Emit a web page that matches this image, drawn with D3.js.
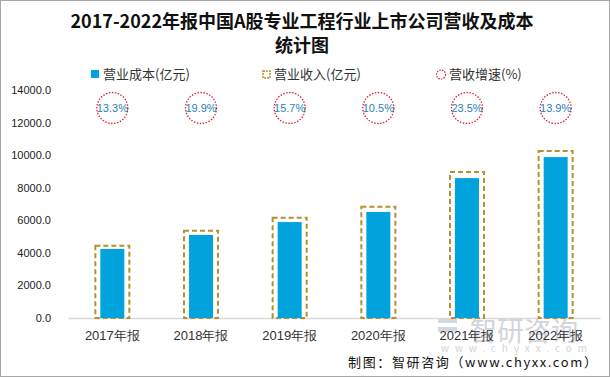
<!DOCTYPE html>
<html>
<head>
<meta charset="utf-8">
<script src="https://cdn.jsdelivr.net/npm/d3@7"></script>
<style>
  body { margin: 0; background: #fff; }
  svg { display: block; font-family: "Noto Sans CJK SC", "Noto Sans", sans-serif; }
</style>
</head>
<body>
<div id="chart"></div>
<script>
// data
var years = ["2017年报", "2018年报", "2019年报", "2020年报", "2021年报", "2022年报"];
var cost = [4240, 5100, 5890, 6510, 8590, 9880];       // 营业成本(亿元)
var revenue = [4440, 5360, 6160, 6830, 8960, 10250];   // 营业收入(亿元)
var growth = ["13.3%", "19.9%", "15.7%", "10.5%", "23.5%", "13.9%"]; // 营收增速(%)
var yTicks = [0, 2000, 4000, 6000, 8000, 10000, 12000, 14000];

var width = 610, height = 377;
var margin = {top: 90, right: 10, bottom: 59, left: 68};

var svg = d3.select("#chart").append("svg")
  .attr("width", width).attr("height", height);

// outer frame
svg.append("rect")
  .attr("x", 0.5).attr("y", 0.5)
  .attr("width", width - 1).attr("height", height - 1)
  .attr("fill", "#fff").attr("stroke", "#a6a6a6");

// title
var title = svg.append("text")
  .attr("text-anchor", "middle")
  .attr("font-size", 18).attr("font-weight", "bold").attr("fill", "#111");
title.append("tspan").attr("x", 302).attr("y", 28).text("2017-2022年报中国A股专业工程行业上市公司营收及成本");
title.append("tspan").attr("x", 302).attr("y", 52).text("统计图");

var x = d3.scaleBand().domain(years).range([margin.left, width - margin.right]);
var y = d3.scaleLinear().domain([0, 14000]).range([height - margin.bottom, margin.top]);

// watermark (drawn under everything else)
var wm = svg.append("g").attr("fill", "#c4c8cf").attr("opacity", 0.75);
wm.append("rect").attr("x", 438).attr("y", 318).attr("width", 19).attr("height", 5).attr("fill", "#c2cde0");
wm.append("rect").attr("x", 438).attr("y", 327).attr("width", 19).attr("height", 5).attr("fill", "#c2cde0");
wm.append("text").attr("x", 470).attr("y", 341).attr("font-size", 27).text("智研咨询");
wm.append("text").attr("x", 441).attr("y", 352).attr("font-size", 10)
  .attr("textLength", 146).attr("lengthAdjust", "spacing").text("www.chyxx.com");

// y axis labels (no line)
var yAxis = svg.append("g")
  .attr("transform", "translate(" + (margin.left - 14) + ",0)")
  .call(d3.axisLeft(y).tickValues(yTicks).tickSize(0).tickFormat(d3.format(".1f")));
yAxis.select(".domain").remove();
yAxis.selectAll("text").attr("font-size", 11).attr("fill", "#222")
  .attr("font-family", "Liberation Sans, Arial, sans-serif");

// x axis
var xAxis = svg.append("g")
  .attr("transform", "translate(0," + y(0) + ")")
  .call(d3.axisBottom(x).tickSize(0).tickPadding(13));
xAxis.select(".domain").attr("stroke", "#d9d9d9").attr("stroke-width", 1.5);
xAxis.selectAll("text").attr("font-size", 13).attr("fill", "#333");

// revenue (dashed outline)
var revW = 34;
svg.append("g").selectAll("rect")
  .data(revenue).enter().append("rect")
  .attr("x", function(d, i) { return x(years[i]) + x.bandwidth() / 2 - revW / 2; })
  .attr("y", function(d) { return y(d); })
  .attr("width", revW)
  .attr("height", function(d) { return y(0) - y(d); })
  .attr("fill", "none")
  .attr("stroke", "#b8902c").attr("stroke-width", 2)
  .attr("stroke-dasharray", "5,3");

// cost bars
var costW = 24;
svg.append("g").selectAll("rect")
  .data(cost).enter().append("rect")
  .attr("x", function(d, i) { return x(years[i]) + x.bandwidth() / 2 - costW / 2; })
  .attr("y", function(d) { return y(d); })
  .attr("width", costW)
  .attr("height", function(d) { return y(0) - y(d); })
  .attr("fill", "#00a3db");

// growth circles
var g = svg.append("g").selectAll("g")
  .data(growth).enter().append("g")
  .attr("transform", function(d, i) { return "translate(" + (x(years[i]) + x.bandwidth() / 2) + ",108)"; });
g.append("circle").attr("r", 15.5)
  .attr("fill", "none").attr("stroke", "#e0222c").attr("stroke-width", 1.3)
  .attr("stroke-dasharray", "1.5,1.5");
g.append("text").attr("text-anchor", "middle").attr("dy", "0.36em")
  .attr("font-size", 11).attr("fill", "#2a7fb8")
  .attr("font-family", "Liberation Sans, Arial, sans-serif")
  .text(function(d) { return d; });

// legend
var legend = svg.append("g").attr("font-size", 13).attr("fill", "#333");
legend.append("rect").attr("x", 91).attr("y", 70).attr("width", 8).attr("height", 8).attr("fill", "#00a3db");
legend.append("text").attr("x", 103).attr("y", 79).text("营业成本(亿元)");
legend.append("rect").attr("x", 263).attr("y", 71).attr("width", 7).attr("height", 7)
  .attr("fill", "none").attr("stroke", "#b8902c").attr("stroke-width", 1.5).attr("stroke-dasharray", "2,1");
legend.append("text").attr("x", 274).attr("y", 79).text("营业收入(亿元)");
legend.append("circle").attr("cx", 441).attr("cy", 74.5).attr("r", 4.5)
  .attr("fill", "none").attr("stroke", "#e0222c").attr("stroke-width", 1.2).attr("stroke-dasharray", "1.5,1.2");
legend.append("text").attr("x", 449).attr("y", 79).text("营收增速(%)");

// source
svg.append("text").attr("x", 348).attr("y", 367)
  .attr("font-size", 13).attr("fill", "#111")
  .attr("textLength", 249).attr("lengthAdjust", "spacing")
  .text("制图：智研咨询（www.chyxx.com）");
</script>
</body>
</html>
